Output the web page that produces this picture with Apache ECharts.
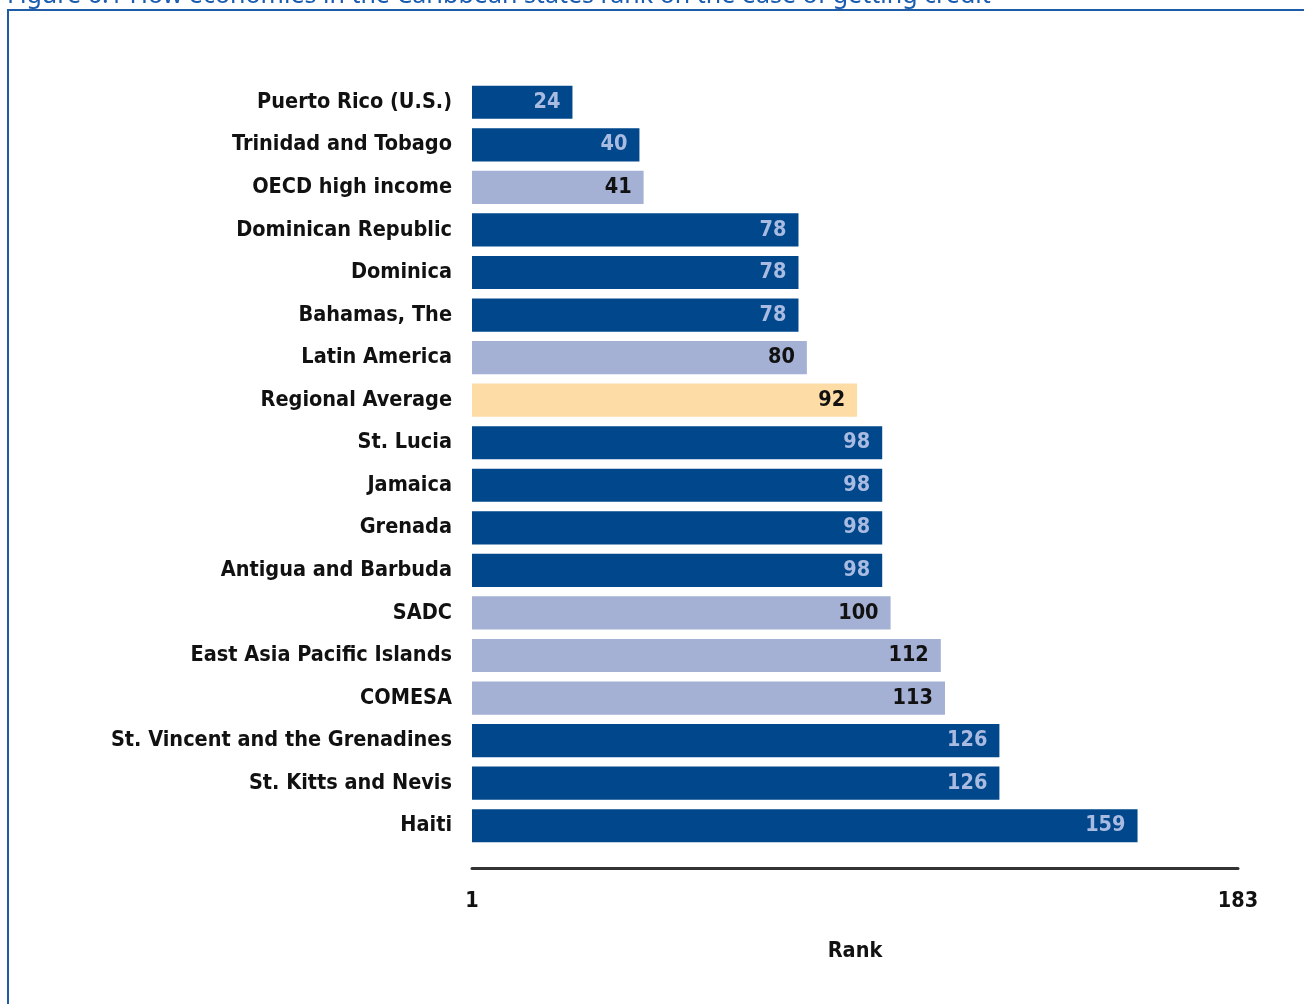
<!DOCTYPE html>
<html><head><meta charset="utf-8">
<script src="https://cdn.jsdelivr.net/npm/echarts@6/dist/echarts.min.js"></script>
<style>html,body{margin:0;padding:0;background:#fff}#c{width:1304px;height:1004px}</style>
</head><body><div id="c"></div>
<script>
const categories = ["Puerto Rico (U.S.)","Trinidad and Tobago","OECD high income","Dominican Republic","Dominica","Bahamas, The","Latin America","Regional Average","St. Lucia","Jamaica","Grenada","Antigua and Barbuda","SADC","East Asia Pacific Islands","COMESA","St. Vincent and the Grenadines","St. Kitts and Nevis","Haiti"];
const ranks = [24,40,41,78,78,78,80,92,98,98,98,98,100,112,113,126,126,159];
// group type: e = economy, c = comparison region, r = regional average
const groups = ["e","e","c","e","e","e","c","r","e","e","e","e","c","c","c","e","e","e"];
const axisTickLabels = ["1","183"];
const titleText = "Figure 6.1 How economies in the Caribbean states rank on the ease of getting credit";

const fillColors = {e:"#00478c", c:"#a4b1d5", r:"#fedca6"};
const labelColors = {e:"#a9bbe0", c:"#111111", r:"#111111"};
const FONT = "DejaVu Sans Condensed";
const FS = 21.5;

const chart = echarts.init(document.getElementById('c'));
chart.setOption({
  animation:false,
  backgroundColor:"#fff",
  title:{text:titleText,left:2,top:-22,textStyle:{color:"#1a5db0",fontSize:25,fontWeight:"normal",fontFamily:"Noto Sans"}},
  graphic:[{type:"rect",shape:{x:8,y:10,width:1320,height:1020},style:{fill:"none",stroke:"#1f5ca8",lineWidth:2},silent:true}],
  grid:{left:472,right:66,top:81,bottom:1004-847},
  xAxis:{type:"value",min:0,max:183,interval:183,offset:21,
    axisLine:{show:true,lineStyle:{color:"#333",width:3}},
    axisTick:{show:false},splitLine:{show:false},
    axisLabel:{margin:22,fontFamily:FONT,fontWeight:"bold",fontSize:FS,color:"#111",
      formatter:v=>v===0?axisTickLabels[0]:axisTickLabels[1]},
    name:"Rank",nameLocation:"middle",nameGap:72,
    nameTextStyle:{fontFamily:FONT,fontWeight:"bold",fontSize:FS,color:"#111"}},
  yAxis:{type:"category",data:categories,inverse:true,
    axisLine:{show:false},axisTick:{show:false},
    axisLabel:{margin:20,fontFamily:FONT,fontWeight:"bold",fontSize:FS,color:"#111"}},
  series:[{type:"bar",barCategoryGap:"22%",
    data:ranks.map((v,i)=>({value:v,itemStyle:{color:fillColors[groups[i]]},
      label:{color:labelColors[groups[i]]}})),
    label:{show:true,position:"insideRight",distance:12,fontFamily:FONT,fontWeight:"bold",fontSize:FS}
  }]
});
</script></body></html>
